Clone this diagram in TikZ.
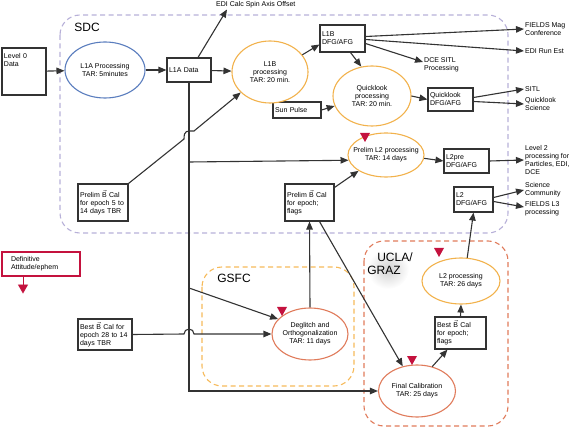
\documentclass[tikz,border=0pt]{standalone}
\usepackage{fontspec}
\setmainfont{Liberation Sans}
\usepackage{amsmath}
\usepackage{xcolor}
\usepackage{tikz}
\usetikzlibrary{positioning,shapes.geometric,arrows.meta}

\definecolor{cinza}{HTML}{333333}
\definecolor{azul}{HTML}{5A7DBE}
\definecolor{laranja}{HTML}{F2B24C}
\definecolor{coral}{HTML}{E07B5B}
\definecolor{lilas}{HTML}{B7B0D8}
\definecolor{laranjaTr}{HTML}{F6BA5A}
\definecolor{carmim}{HTML}{C4123E}

\newcommand{\fs}{\fontsize{7}{8}\selectfont}
\newcommand{\vB}{$\vec{\text{B}}$}
\newcommand{\marca}[2]{\fill[carmim] (#1-5,#2) -- (#1+5,#2) -- (#1,#2+9) -- cycle;}

\begin{document}
\begin{tikzpicture}[x=1pt,y=-1pt,
    caixa/.style={draw=cinza, line width=1.1pt, fill=white, align=left, inner xsep=2pt, inner ysep=2pt, font=\fs},
    elipse/.style={ellipse, line width=1.1pt, fill=white, align=center, inner sep=-10pt, font=\fs},
    seta/.style={draw=cinza, line width=1.1pt, -{Triangle[length=8pt,width=6.5pt]}},
    linha/.style={draw=cinza, line width=1.1pt},
    texto/.style={align=left, inner sep=1pt, font=\fs},
    regiao/.style={dash pattern=on 5pt off 3.5pt, line width=1.1pt, rounded corners=20pt},
    rotulo/.style={font=\fontsize{12}{13}\selectfont, inner sep=0pt}]

    \useasboundingbox (0,0) rectangle (573,430);

    % Regiões tracejadas
    \draw[regiao, lilas] (60,15) rectangle (508,233);
    \draw[regiao, laranjaTr] (202,267) rectangle (354,386);
    \draw[regiao, coral] (364,241) rectangle (508,426);
    \shade[inner color=black!18, outer color=white] (388,269) ellipse (21pt and 20pt);

    % Nomes das regiões
    \node[rotulo] (sdc) at (87,27) {SDC};
    \node[rotulo] (gsfc) at (234,278) {GSFC};
    \node[rotulo, align=left] (ucla) at (390,264) {\hspace*{10pt}UCLA/\\GRAZ};

    % Caixas
    \node[caixa, minimum width=44pt, minimum height=47pt, text width=40pt] (lvl0) at (24,71.5) {Level 0\\Data\\[16pt]\mbox{}};
    \node[caixa, minimum width=44pt, minimum height=24pt, text width=40pt] (l1adata) at (189,70) {L1A Data};
    \node[caixa, minimum width=45pt, minimum height=27pt, text width=41pt] (l1bdfg) at (342.5,38.5) {L1B\\DFG/AFG};
    \node[caixa, minimum width=48pt, minimum height=16pt, text width=44pt] (sunpulse) at (297,110) {Sun Pulse};
    \node[caixa, minimum width=45pt, minimum height=23pt, text width=41pt] (qldfg) at (450.5,99.5) {Quicklook\\DFG/AFG};
    \node[caixa, minimum width=45pt, minimum height=24pt, text width=41pt] (l2pre) at (466.5,161) {L2pre\\DFG/AFG};
    \node[caixa, minimum width=49pt, minimum height=37pt, text width=45pt] (prelimB) at (309.5,202.5) {Prelim \vB{} Cal\\for epoch;\\flags};
    \node[caixa, minimum width=39pt, minimum height=25pt, text width=35pt] (l2dfg) at (473.5,199.5) {L2\\DFG/AFG};
    \node[caixa, minimum width=50pt, minimum height=37pt, text width=46pt] (prelimA) at (103,202.5) {Prelim \vB{} Cal\\for epoch 5 to\\14 days TBR};
    \node[caixa, minimum width=54pt, minimum height=31pt, text width=50pt] (bestA) at (105,334.5) {Best \vB{} Cal for\\epoch 28 to 14\\days TBR};
    \node[caixa, minimum width=51pt, minimum height=32pt, text width=47pt] (bestB) at (460.5,333) {Best \vB{} Cal\\for epoch;\\flags};
    \node[caixa, draw=carmim, inner xsep=9pt, minimum width=78pt, minimum height=24pt, text width=60pt] (defatt) at (41,264) {Definitive\\Attitude/ephem};

    % Elipses de processamento
    \node[elipse, draw=azul, minimum width=80pt, minimum height=56pt] (l1aproc) at (105,70) {L1A Processing\\TAR: 5minutes};
    \node[elipse, draw=laranja, minimum width=76pt, minimum height=62pt] (l1bproc) at (270,72) {L1B\\processing\\TAR: 20 min.};
    \node[elipse, draw=laranja, minimum width=78pt, minimum height=60pt] (qlproc) at (372,96) {Quicklook\\processing\\TAR: 20 min.};
    \node[elipse, draw=laranja, minimum width=76pt, minimum height=44pt] (prelimL2) at (386,155) {Prelim L2 processing\\TAR: 14 days};
    \node[elipse, draw=coral, minimum width=76pt, minimum height=52pt] (dgl) at (310,334) {Deglitch and\\Orthogonalization\\TAR: 11 days};
    \node[elipse, draw=coral, minimum width=77pt, minimum height=52pt] (finalcal) at (417,391) {Final Calibration\\TAR: 25 days};
    \node[elipse, draw=laranja, minimum width=78pt, minimum height=46pt] (l2proc) at (461,281) {L2 processing\\TAR: 26 days};

    % Saídas
    \node[texto, anchor=west] (ediSpin) at (215,5) {EDI Calc Spin Axis Offset};
    \node[texto, anchor=west] (fieldsMag) at (524,29) {FIELDS Mag\\Conference};
    \node[texto, anchor=west] (ediRun) at (524,51) {EDI Run Est};
    \node[texto, anchor=north west] (dceSitl) at (423,56) {DCE SITL\\Processing};
    \node[texto, anchor=west] (sitl) at (524,89) {SITL};
    \node[texto, anchor=west] (qlSci) at (524,104) {Quicklook\\Science};
    \node[texto, anchor=west] (lvl2) at (524,160) {Level 2\\processing for\\Particles, EDI,\\DCE};
    \node[texto, anchor=west] (sciComm) at (524,190) {Science\\Community};
    \node[texto, anchor=west] (fieldsL3) at (524,209) {FIELDS L3\\processing};

    % Pontos da linha vertical
    \coordinate (vL2) at (189,162);
    \coordinate (vDgl) at (189,288);
    \coordinate (vBase) at (189,391);
    \coordinate (hopA) at (184,139);
    \coordinate (hopB) at (194,131);
    \coordinate (hopC) at (184,334);

    % Fluxo L0 -> L1
    \draw[seta] (lvl0) -- (l1aproc);
    \draw[seta] (l1aproc) -- (l1adata);
    \draw[seta] (l1adata) -- (l1bproc);
    \draw[seta] ([xshift=9pt]l1adata.north) -- ([xshift=12pt]ediSpin.south west);
    \draw[seta] (l1bproc.28) -- ([yshift=-6pt]l1bdfg.west);

    % Saídas do L1B
    \draw[seta] ([yshift=2pt]l1bdfg.east) -- (fieldsMag.west);
    \draw[seta] ([yshift=-1pt]l1bdfg.east) -- (ediRun.west);
    \draw[seta] ([yshift=-5pt]l1bdfg.east) -- ([yshift=-6pt]dceSitl.north west);
    \draw[seta] ([xshift=8pt]l1bdfg.south) -- (qlproc.110);

    % Quicklook
    \draw[seta] (sunpulse.east) -- (qlproc.195);
    \draw[seta] (qlproc.east) -- (qldfg.west);
    \draw[seta] ([yshift=2pt]qldfg.east) -- (sitl.west);
    \draw[seta] ([yshift=-2pt]qldfg.east) -- (qlSci.west);

    % Linha vertical do L1A Data
    \draw[seta] (l1adata.south) -- (vBase) -- (finalcal.west);
    \draw[seta] (vL2) -- (prelimL2.188);
    \draw[seta] (vDgl) -- (dgl.155);

    % Calibrações com salto
    \draw[seta] (prelimA.north east) -- (hopA) .. controls +(0,-9) and +(-7,0) .. (hopB) -- (l1bproc.215);
    \draw[seta] (bestA.east) -- (hopC) arc[start angle=180, end angle=0, radius=5pt] -- (dgl.west);

    % Prelim L2
    \draw[seta] ([yshift=-4pt]prelimB.north east) -- (prelimL2.210);
    \draw[seta] (dgl.north) -- (prelimB.south);
    \draw[seta] ([xshift=10pt]prelimB.south) -- (finalcal.120);
    \draw[seta] (prelimL2.355) -- (l2pre.west);
    \draw[seta] (l2pre.east) -- (lvl2.west);

    % UCLA/GRAZ
    \draw[seta] (finalcal.58) -- ([xshift=-13pt]bestB.south);
    \draw[seta] (bestB.north) -- (l2proc.south);
    \draw[seta] (l2proc.75) -- (l2dfg.south);
    \draw[seta] ([yshift=2pt]l2dfg.east) -- (sciComm.west);
    \draw[seta] ([yshift=-2pt]l2dfg.east) -- ([yshift=2pt]fieldsL3.west);

    % Marcas de atitude
    \draw[carmim, line width=0.9pt, -{Triangle[length=9pt,width=10pt]}] ([xshift=-18pt]defatt.south) -- ++(0,17);
    \marca{365}{133}
    \marca{282}{307}
    \marca{412}{356}
    \marca{439}{248}

\end{tikzpicture}
\end{document}
